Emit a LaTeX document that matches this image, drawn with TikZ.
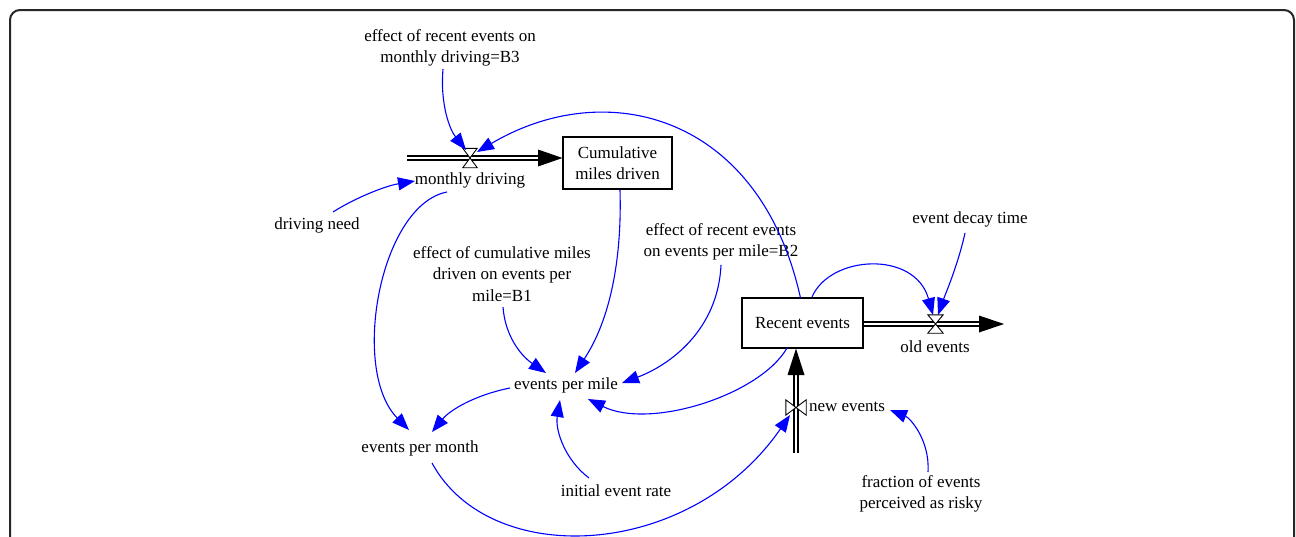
\documentclass[tikz,border=0pt]{standalone}
\usepackage{fontspec}
\setmainfont{Liberation Serif}
\usetikzlibrary{arrows.meta,calc}
\begin{document}
\begin{tikzpicture}[x=1pt,y=-1pt,
  var/.style={font=\fontsize{17}{21.5}\selectfont, align=center, inner sep=1pt},
  stock/.style={var, draw, line width=1.1pt, inner sep=0pt},
  link/.style={draw=blue, line width=1.1pt, -{Triangle[length=17pt,width=13pt,fill=blue]}},
  pipe/.style={double, double distance=2.7pt, line width=1.2pt},
  valve/.style={inner sep=0pt, minimum width=#1},
  valveline/.style={line width=0.9pt, fill=white}]
\useasboundingbox (0,0) rectangle (1296,536);
\draw[line width=2pt, rounded corners=10pt, black!85] (10,10) rectangle (1294,620);

% stocks
\node[stock, minimum width=109pt, minimum height=52pt] (cum) at (617.5,163) {Cumulative\\miles driven};
\node[stock, minimum width=121pt, minimum height=50pt] (rec) at (802.5,323) {Recent events};

% flows
\coordinate (src1) at (407,158);
\coordinate (sink2) at (1004,324);
\coordinate (src3) at (796,453);
\draw[pipe] (src1) -- (538,158);
\fill (538,149.5) -- ($(cum.west)+(0,-5)$) -- (538,166.5) -- cycle;
\draw[pipe] (rec.east |- sink2) -- (979,324);
\fill (979,315.5) -- (sink2) -- (979,332.5) -- cycle;
\draw[pipe] (src3) -- (796,375);
\fill (787.5,375) -- ($(rec.south)+(-6.5,0)$) -- (804.5,375) -- cycle;

\node[valve=14pt, minimum height=19pt] (v1) at (470,158) {};
\node[valve=15pt, minimum height=18pt] (v2) at (935.5,324) {};
\node[valve=20pt, minimum height=15pt] (v3) at (796,407.5) {};
\draw[valveline] (v1.south west) -- (v1.south east) -- (v1.north west) -- (v1.north east) -- cycle;
\draw[valveline] (v2.south west) -- (v2.south east) -- (v2.north west) -- (v2.north east) -- cycle;
\draw[valveline] (v3.north west) -- (v3.south west) -- (v3.north east) -- (v3.south east) -- cycle;

% variables
\node[var] (b3) at (450,48) {effect of recent events on\\monthly driving=B3};
\node[var] (md) at (470,180) {monthly driving};
\node[var] (dn) at (317,225) {driving need};
\node[var] (b1) at (502,274) {effect of cumulative miles\\driven on events per\\mile=B1};
\node[var] (b2) at (721,242) {effect of recent events\\on events per mile=B2};
\node[var] (edt) at (970,219) {event decay time};
\node[var] (oe) at (935,347) {old events};
\node[var] (epm) at (566,385) {events per mile};
\node[var] (epmo) at (420,448) {events per month};
\node[var] (ier) at (616,491) {initial event rate};
\node[var] (ne) at (847,407) {new events};
\node[var] (fr) at (921,494) {fraction of events\\perceived as risky};

% links
\draw[link] ($(b3.center)+(-7,21)$) .. controls (440,105) and (450,130) .. ($(v1.center)+(-4,-8)$);
\draw[link] ($(rec.center)+(-2,-25)$) .. controls (760,115) and (607,75) .. ($(v1.center)+(7,-6)$);
\draw[link] ($(dn.center)+(16,-13)$) .. controls (355,198) and (385,186) .. ($(md.center)+(-55,1)$);
\draw[link] ($(md.center)+(-23,12)$) .. controls (380,205) and (350,370) .. ($(epmo.center)+(-11,-18)$);
\draw[link] ($(cum.center)+(2.5,27)$) .. controls (622,260) and (610,320) .. ($(epm.center)+(9,-12)$);
\draw[link] ($(b1.center)+(1,33)$) .. controls (505,335) and (520,355) .. ($(epm.center)+(-20,-12)$);
\draw[link] ($(b2.center)+(0,23)$) .. controls (718,330) and (670,365) .. ($(epm.center)+(56,-2)$);
\draw[link] ($(rec.center)+(-15.5,25)$) .. controls (760,395) and (650,430) .. ($(epm.center)+(22,14)$);
\draw[link] ($(epm.center)+(-56,3)$) .. controls (475,395) and (450,410) .. ($(epmo.center)+(12,-16)$);
\draw[link] ($(ier.center)+(-27,-13)$) .. controls (565,460) and (555,430) .. ($(epm.center)+(-6,15)$);
\draw[link] ($(epmo.center)+(12,15)$) .. controls (490,570) and (690,560) .. ($(v3.center)+(-6,7.5)$);
\draw[link] ($(fr.center)+(7,-22)$) .. controls (930,440) and (910,418) .. ($(ne.center)+(43,3)$);
\draw[link] ($(rec.center)+(9.5,-26)$) .. controls (830,255) and (915,250) .. ($(v2.center)+(-2.5,-9)$);
\draw[link] ($(edt.center)+(-5,14)$) .. controls (958,265) and (945,295) .. ($(v2.center)+(2.5,-9)$);
\end{tikzpicture}
\end{document}
